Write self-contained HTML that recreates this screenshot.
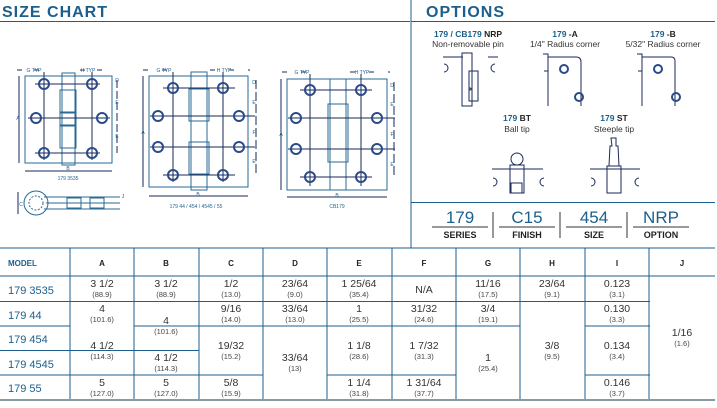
<!DOCTYPE html>
<html><head><meta charset="utf-8"><style>
html,body{margin:0;padding:0;background:#fff;}
svg{display:block;font-family:"Liberation Sans",sans-serif;}
.h{font-weight:bold;fill:#1c5f8c;font-size:16px;letter-spacing:1px}
.t{font-size:10.5px;fill:#333;text-anchor:middle}
.s{font-size:7.5px;fill:#444;text-anchor:middle}
.m{font-size:11px;fill:#1c5f8c}
.hd{font-size:8px;font-weight:bold;fill:#222;text-anchor:middle}
.l{stroke:#1c5f8c;stroke-width:1;fill:none}
.d{stroke:#1a2a5a;stroke-width:1;fill:none}
.p{stroke:#2a6a95;stroke-width:1;fill:none}
.hole{stroke:#2a4a8a;stroke-width:2;fill:none}
.o{font-size:8.5px;fill:#333;text-anchor:middle}
.ob{font-size:8.5px;font-weight:bold;fill:#1c5f8c;text-anchor:middle}
.big{font-size:17px;fill:#1c5f8c;text-anchor:middle}
.lab{font-size:9px;font-weight:bold;fill:#222;text-anchor:middle}
.cap{font-size:5px;fill:#1c5f8c;text-anchor:middle}
</style></head><body>
<svg width="717" height="408" viewBox="0 0 717 408">
<text x="2" y="17" class="h">SIZE CHART</text>
<text x="426" y="17" class="h">OPTIONS</text>
<line x1="0" y1="21.5" x2="410" y2="21.5" class="l" stroke-width="1.5"/>
<line x1="411" y1="21.5" x2="715" y2="21.5" class="l" stroke-width="1.5"/>
<line x1="411" y1="0" x2="411" y2="248" class="l" stroke-width="1.5"/>
<line x1="411" y1="202.5" x2="715" y2="202.5" class="l" stroke-width="1.5"/>

<!-- hinge 1 -->
<g>
<rect x="25" y="76" width="87" height="87" class="p"/>
<rect x="62" y="73" width="13" height="92" class="p"/>
<rect x="60" y="90" width="16" height="22" class="p"/><rect x="60" y="113" width="16" height="12" class="p"/><rect x="60" y="126" width="16" height="22" class="p"/>
<line x1="35" y1="84" x2="100" y2="84" class="d"/><line x1="28" y1="118" x2="110" y2="118" class="d"/><line x1="35" y1="153" x2="100" y2="153" class="d"/>
<line x1="44" y1="72" x2="44" y2="160" class="d"/><line x1="92" y1="72" x2="92" y2="160" class="d"/>
<circle cx="44" cy="84" r="5" class="hole"/><circle cx="92" cy="84" r="5" class="hole"/><circle cx="36" cy="118" r="5" class="hole"/><circle cx="102" cy="118" r="5" class="hole"/><circle cx="44" cy="153" r="5" class="hole"/><circle cx="92" cy="153" r="5" class="hole"/>
<line x1="19" y1="76" x2="19" y2="163" class="d"/><line x1="117" y1="80" x2="117" y2="153" class="d" stroke-dasharray="8 3"/>
<line x1="25" y1="171" x2="112" y2="171" class="d"/>
<line x1="17" y1="70" x2="50" y2="70" class="d" stroke-dasharray="5 12"/><line x1="80" y1="70" x2="112" y2="70" class="d" stroke-dasharray="5 12"/>
<text x="18" y="120" class="cap">A</text><text x="117" y="82" class="cap">D</text><text x="117" y="104" class="cap">E</text><text x="117" y="138" class="cap">E</text><text x="68" y="170" class="cap">B</text>
<text x="34" y="72" class="cap">G TYP</text><text x="88" y="72" class="cap">H TYP</text>
<text x="68" y="180" class="cap" font-size="5.5">179 3535</text>
<circle cx="36" cy="203" r="12" class="p"/><circle cx="36" cy="203" r="7" class="p" stroke-dasharray="2 1.5"/>
<line x1="44" y1="197" x2="120" y2="197" class="p"/><line x1="44" y1="209" x2="120" y2="209" class="p"/><line x1="46" y1="203" x2="120" y2="203" class="p"/>
<rect x="67" y="198" width="14" height="10" class="p"/><rect x="90" y="198" width="14" height="10" class="p"/>
<line x1="18" y1="192" x2="18" y2="214" class="d"/><text x="21" y="206" class="cap">C</text><text x="123" y="198" class="cap">J</text>
</g>
<!-- hinge 2 -->
<g>
<rect x="149" y="76" width="99" height="111" class="p"/>
<rect x="191" y="72" width="16" height="118" class="p"/>
<rect x="189" y="89" width="20" height="32" class="p"/><rect x="189" y="142" width="20" height="32" class="p"/>
<line x1="163" y1="88" x2="235" y2="88" class="d"/><line x1="150" y1="116" x2="255" y2="116" class="d"/><line x1="150" y1="147" x2="255" y2="147" class="d"/><line x1="163" y1="175" x2="235" y2="175" class="d"/>
<line x1="173" y1="72" x2="173" y2="182" class="d"/><line x1="223" y1="72" x2="223" y2="182" class="d"/>
<circle cx="173" cy="88" r="5" class="hole"/><circle cx="223" cy="88" r="5" class="hole"/><circle cx="158" cy="116" r="5" class="hole"/><circle cx="239" cy="116" r="5" class="hole"/><circle cx="158" cy="147" r="5" class="hole"/><circle cx="239" cy="147" r="5" class="hole"/><circle cx="173" cy="175" r="5" class="hole"/><circle cx="223" cy="175" r="5" class="hole"/>
<line x1="143" y1="76" x2="143" y2="187" class="d"/><line x1="256" y1="80" x2="256" y2="176" class="d" stroke-dasharray="9 3"/>
<line x1="149" y1="196" x2="248" y2="196" class="d"/>
<line x1="143" y1="70" x2="178" y2="70" class="d" stroke-dasharray="5 14"/><line x1="210" y1="70" x2="250" y2="70" class="d" stroke-dasharray="5 14"/>
<text x="143" y="134" class="cap">A</text><text x="254" y="84" class="cap">D</text><text x="254" y="104" class="cap">E</text><text x="254" y="134" class="cap">F</text><text x="254" y="163" class="cap">E</text><text x="198" y="196" class="cap">B</text>
<text x="164" y="72" class="cap">G TYP</text><text x="224" y="72" class="cap">H TYP</text>
<text x="196" y="208" class="cap" font-size="5.5">179 44  /  454  /  4545  /  55</text>
</g>
<!-- hinge 3 -->
<g>
<rect x="287" y="79" width="100" height="111" class="p"/>
<rect x="330" y="79" width="16" height="111" class="p"/>
<rect x="328" y="104" width="20" height="58" class="p"/>
<line x1="300" y1="90" x2="372" y2="90" class="d"/><line x1="288" y1="118" x2="395" y2="118" class="d"/><line x1="288" y1="149" x2="395" y2="149" class="d"/><line x1="300" y1="177" x2="372" y2="177" class="d"/>
<line x1="310" y1="74" x2="310" y2="186" class="d"/><line x1="361" y1="74" x2="361" y2="186" class="d"/>
<circle cx="310" cy="90" r="5" class="hole"/><circle cx="361" cy="90" r="5" class="hole"/><circle cx="296" cy="118" r="5" class="hole"/><circle cx="377" cy="118" r="5" class="hole"/><circle cx="296" cy="149" r="5" class="hole"/><circle cx="377" cy="149" r="5" class="hole"/><circle cx="310" cy="177" r="5" class="hole"/><circle cx="361" cy="177" r="5" class="hole"/>
<line x1="281" y1="79" x2="281" y2="190" class="d"/><line x1="394" y1="82" x2="394" y2="178" class="d" stroke-dasharray="9 3"/>
<line x1="287" y1="197" x2="387" y2="197" class="d"/>
<line x1="282" y1="72" x2="316" y2="72" class="d" stroke-dasharray="5 14"/><line x1="350" y1="72" x2="390" y2="72" class="d" stroke-dasharray="5 14"/>
<text x="281" y="136" class="cap">A</text><text x="392" y="87" class="cap">D</text><text x="392" y="106" class="cap">E</text><text x="392" y="136" class="cap">F</text><text x="392" y="166" class="cap">E</text><text x="337" y="197" class="cap">B</text>
<text x="302" y="74" class="cap">G TYP</text><text x="362" y="74" class="cap">H TYP</text>
<text x="337" y="208" class="cap" font-size="5.5">CB179</text>
</g>

<!-- options -->
<text x="468" y="37" class="ob">179 / CB179 <tspan fill="#222">NRP</tspan></text>
<text x="468" y="47" class="o">Non-removable pin</text>
<text x="565" y="37" class="ob">179 <tspan fill="#222">-A</tspan></text>
<text x="565" y="47" class="o">1/4" Radius corner</text>
<text x="663" y="37" class="ob">179 <tspan fill="#222">-B</tspan></text>
<text x="663" y="47" class="o">5/32" Radius corner</text>
<g class="d">
<path d="M443 57 h20 M488 57 h10"/><rect x="462" y="53" width="10" height="53"/><rect x="469" y="71" width="9" height="30"/>
<path d="M444 64 a3 3 0 0 1 0 8 M495 64 a3 3 0 0 0 0 8"/><circle cx="470" cy="89" r="1"/>
<path d="M543 54 h5 v52 M548 57 h28 q5 0 5 5 v44 M544 71 h4"/>
<circle cx="564" cy="69" r="4" class="hole"/><circle cx="579" cy="97" r="4" class="hole"/>
<path d="M637 54 h5 v52 M642 57 h29 q4 0 4 4 v45 M638 71 h4"/>
<circle cx="658" cy="69" r="4" class="hole"/><circle cx="676" cy="97" r="4" class="hole"/>
</g>
<text x="517" y="121" class="ob">179 <tspan fill="#222">BT</tspan></text>
<text x="517" y="132" class="o">Ball tip</text>
<text x="614" y="121" class="ob">179 <tspan fill="#222">ST</tspan></text>
<text x="614" y="132" class="o">Steeple tip</text>
<g class="d">
<circle cx="517" cy="159" r="6"/><rect x="510" y="165" width="14" height="28"/><rect x="511" y="183" width="11" height="10"/>
<path d="M492 169 h51 M493 178 a3 3 0 0 1 0 8 M544 178 a3 3 0 0 0 0 8"/>
<path d="M611 138 h5 v8 h2 l1 20 h-10 l1 -20 h2 z"/><rect x="607" y="166" width="14" height="27"/>
<path d="M590 169 h50 M591 178 a3 3 0 0 1 0 8 M639 178 a3 3 0 0 0 0 8"/>
</g>
<text x="460" y="223" class="big">179</text><text x="527" y="223" class="big">C15</text><text x="594" y="223" class="big">454</text><text x="661" y="223" class="big">NRP</text>
<g stroke="#333" stroke-width="1"><line x1="432" y1="227" x2="488" y2="227"/><line x1="499" y1="227" x2="555" y2="227"/><line x1="566" y1="227" x2="622" y2="227"/><line x1="633" y1="227" x2="689" y2="227"/>
<line x1="493" y1="212" x2="493" y2="238"/><line x1="560" y1="212" x2="560" y2="238"/><line x1="627" y1="212" x2="627" y2="238"/></g>
<text x="460" y="238" class="lab">SERIES</text><text x="527" y="238" class="lab">FINISH</text><text x="594" y="238" class="lab">SIZE</text><text x="661" y="238" class="lab">OPTION</text>

<!-- table -->
<g class="l" stroke-width="1.2">
<line x1="0" y1="248" x2="715" y2="248"/>
<line x1="0" y1="276" x2="715" y2="276"/>
<line x1="0" y1="301.5" x2="650" y2="301.5"/>
<line x1="0" y1="326" x2="70" y2="326"/><line x1="134" y1="326" x2="198" y2="326"/><line x1="198" y1="326" x2="520" y2="326"/><line x1="585" y1="326" x2="650" y2="326"/>
<line x1="0" y1="350.5" x2="134" y2="350.5"/><line x1="134" y1="350.5" x2="199" y2="350.5"/>
<line x1="0" y1="375" x2="70" y2="375"/><line x1="70" y1="375" x2="263" y2="375"/><line x1="327" y1="375" x2="456" y2="375"/><line x1="585" y1="375" x2="650" y2="375"/>
<line x1="70" y1="248" x2="70" y2="400"/><line x1="134" y1="248" x2="134" y2="400"/><line x1="199" y1="248" x2="199" y2="400"/><line x1="263" y1="248" x2="263" y2="400"/><line x1="327" y1="248" x2="327" y2="400"/><line x1="392" y1="248" x2="392" y2="400"/><line x1="456" y1="248" x2="456" y2="400"/><line x1="520" y1="248" x2="520" y2="400"/><line x1="585" y1="248" x2="585" y2="400"/><line x1="649" y1="248" x2="649" y2="400"/>
</g>
<line x1="0" y1="400" x2="715" y2="400" stroke="#8a9aa5" stroke-width="2"/>
<text x="8" y="266" font-size="8" font-weight="bold" fill="#1c5f8c">MODEL</text>
<g class="hd"><text x="102" y="266">A</text><text x="166" y="266">B</text><text x="231" y="266">C</text><text x="295" y="266">D</text><text x="359" y="266">E</text><text x="424" y="266">F</text><text x="488" y="266">G</text><text x="552" y="266">H</text><text x="617" y="266">I</text><text x="682" y="266">J</text></g>
<g class="m"><text x="8" y="294">179 3535</text><text x="8" y="319">179 44</text><text x="8" y="343">179 454</text><text x="8" y="368">179 4545</text><text x="8" y="392">179 55</text></g>
<g>
<text x="102" y="287" class="t">3 1/2</text><text x="102" y="297" class="s">(88.9)</text>
<text x="166" y="287" class="t">3 1/2</text><text x="166" y="297" class="s">(88.9)</text>
<text x="231" y="287" class="t">1/2</text><text x="231" y="297" class="s">(13.0)</text>
<text x="295" y="287" class="t">23/64</text><text x="295" y="297" class="s">(9.0)</text>
<text x="359" y="287" class="t">1 25/64</text><text x="359" y="297" class="s">(35.4)</text>
<text x="424" y="293" class="t">N/A</text>
<text x="488" y="287" class="t">11/16</text><text x="488" y="297" class="s">(17.5)</text>
<text x="552" y="287" class="t">23/64</text><text x="552" y="297" class="s">(9.1)</text>
<text x="617" y="287" class="t">0.123</text><text x="617" y="297" class="s">(3.1)</text>
<text x="102" y="312" class="t">4</text><text x="102" y="322" class="s">(101.6)</text>
<text x="166" y="324" class="t">4</text><text x="166" y="334" class="s">(101.6)</text>
<text x="231" y="312" class="t">9/16</text><text x="231" y="322" class="s">(14.0)</text>
<text x="295" y="312" class="t">33/64</text><text x="295" y="322" class="s">(13.0)</text>
<text x="359" y="312" class="t">1</text><text x="359" y="322" class="s">(25.5)</text>
<text x="424" y="312" class="t">31/32</text><text x="424" y="322" class="s">(24.6)</text>
<text x="488" y="312" class="t">3/4</text><text x="488" y="322" class="s">(19.1)</text>
<text x="617" y="312" class="t">0.130</text><text x="617" y="322" class="s">(3.3)</text>
<text x="102" y="349" class="t">4 1/2</text><text x="102" y="359" class="s">(114.3)</text>
<text x="166" y="361" class="t">4 1/2</text><text x="166" y="371" class="s">(114.3)</text>
<text x="231" y="349" class="t">19/32</text><text x="231" y="359" class="s">(15.2)</text>
<text x="295" y="361" class="t">33/64</text><text x="295" y="371" class="s">(13)</text>
<text x="359" y="349" class="t">1 1/8</text><text x="359" y="359" class="s">(28.6)</text>
<text x="424" y="349" class="t">1 7/32</text><text x="424" y="359" class="s">(31.3)</text>
<text x="488" y="361" class="t">1</text><text x="488" y="371" class="s">(25.4)</text>
<text x="552" y="349" class="t">3/8</text><text x="552" y="359" class="s">(9.5)</text>
<text x="617" y="349" class="t">0.134</text><text x="617" y="359" class="s">(3.4)</text>
<text x="682" y="336" class="t">1/16</text><text x="682" y="346" class="s">(1.6)</text>
<text x="102" y="386" class="t">5</text><text x="102" y="396" class="s">(127.0)</text>
<text x="166" y="386" class="t">5</text><text x="166" y="396" class="s">(127.0)</text>
<text x="231" y="386" class="t">5/8</text><text x="231" y="396" class="s">(15.9)</text>
<text x="359" y="386" class="t">1 1/4</text><text x="359" y="396" class="s">(31.8)</text>
<text x="424" y="386" class="t">1 31/64</text><text x="424" y="396" class="s">(37.7)</text>
<text x="617" y="386" class="t">0.146</text><text x="617" y="396" class="s">(3.7)</text>
</g>
</svg>
</body></html>
